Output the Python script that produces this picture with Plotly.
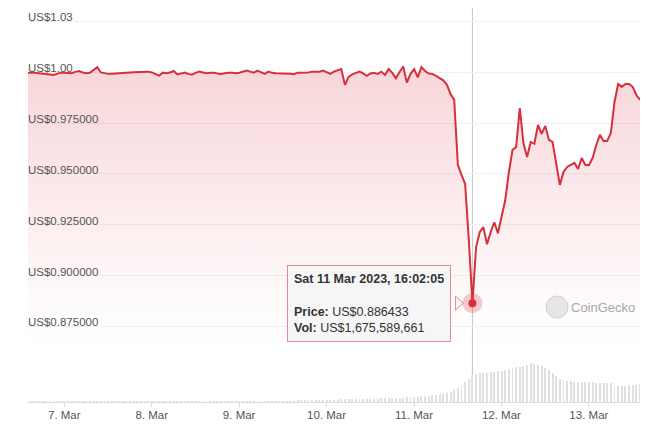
import pandas as pd
import plotly.graph_objects as go

# ---- data ----
start_time = "2023-03-06 14:02:05"
n_points = 169
times = pd.date_range(start_time, periods=n_points, freq="h")

price = [
    0.9998, 0.9999, 0.9997, 0.9995, 0.9994, 0.9992, 0.9989, 0.9987, 0.9994, 0.9998,
    0.9997, 0.9995, 0.9995, 1.0002, 1.0006, 0.9999, 0.9995, 0.9997, 1.0011, 1.0025,
    0.9999, 0.9994, 0.9992, 0.9992, 0.9994, 0.9995, 0.9997, 0.9998, 0.9999, 1.0000,
    1.0001, 1.0001, 1.0003, 1.0003, 0.9999, 0.9992, 0.9983, 0.9998, 0.9995, 0.9999,
    1.0006, 0.9989, 0.9994, 0.9999, 0.9992, 0.9988, 0.9997, 1.0003, 0.9999, 0.9995,
    0.9997, 0.9998, 0.9994, 0.9992, 0.9995, 0.9998, 0.9997, 0.9995, 0.9998, 1.0003,
    1.0008, 1.0003, 0.9998, 1.0008, 0.9999, 0.9992, 1.0003, 0.9997, 0.9995, 0.9995,
    0.9995, 0.9994, 0.9992, 0.9990, 0.9998, 0.9998, 0.9998, 0.9999, 1.0003, 1.0003,
    1.0003, 1.0008, 1.0001, 0.9992, 1.0003, 1.0011, 1.0016, 0.9938, 0.9977, 0.9990,
    0.9995, 1.0003, 0.9994, 0.9982, 0.9994, 0.9997, 0.9992, 1.0003, 0.9987, 1.0016,
    0.9997, 0.9970, 1.0001, 1.0028, 0.9949, 0.9992, 1.0015, 0.9975, 1.0025, 1.0006,
    0.9994, 0.9992, 0.9982, 0.9970, 0.9960, 0.9938, 0.9893, 0.9864, 0.9544, 0.9495,
    0.9450, 0.9177, 0.886433, 0.9140, 0.9213, 0.9238, 0.9154, 0.9213, 0.9262, 0.9208,
    0.9296, 0.9370, 0.9508, 0.9618, 0.9632, 0.9824, 0.9652, 0.9583, 0.9657, 0.9648,
    0.9741, 0.9697, 0.9736, 0.9667, 0.9657, 0.9554, 0.9446, 0.9510, 0.9534, 0.9544,
    0.9554, 0.9524, 0.9578, 0.9544, 0.9544, 0.9578, 0.9642, 0.9692, 0.9662, 0.9662,
    0.9702, 0.9854, 0.9942, 0.9928, 0.9942, 0.9942, 0.9928, 0.9888, 0.9864,
]

volume_bn = [
    0.03, 0.03, 0.03, 0.03, 0.03, 0.03, 0.03, 0.03, 0.03, 0.03,
    0.03, 0.03, 0.03, 0.03, 0.03, 0.03, 0.03, 0.03, 0.03, 0.03,
    0.03, 0.03, 0.03, 0.03, 0.03, 0.03, 0.03, 0.03, 0.03, 0.03,
    0.03, 0.03, 0.03, 0.03, 0.03, 0.03, 0.03, 0.03, 0.03, 0.03,
    0.03, 0.03, 0.03, 0.03, 0.03, 0.03, 0.03, 0.03, 0.03, 0.03,
    0.03, 0.03, 0.03, 0.03, 0.03, 0.03, 0.03, 0.03, 0.03, 0.03,
    0.03, 0.03, 0.03, 0.03, 0.03, 0.03, 0.03, 0.03, 0.03, 0.03,
    0.03, 0.03, 0.03, 0.03,
    0.08, 0.08, 0.08, 0.08, 0.08, 0.08, 0.08, 0.08, 0.08, 0.08, 0.08, 0.08,
    0.16, 0.17, 0.17, 0.18, 0.18, 0.19, 0.19, 0.20, 0.20, 0.21, 0.21, 0.22, 0.22, 0.23, 0.23,
    0.25, 0.26, 0.27, 0.28, 0.30, 0.31, 0.33, 0.35,
    0.37, 0.40, 0.42, 0.45, 0.48,
    0.52, 0.56, 0.62,
    0.75, 0.87, 1.02, 1.22, 1.42,
    1.675589661,
    1.76, 1.79, 1.80, 1.82, 1.84, 1.86,
    1.90, 1.95, 2.00, 2.05, 2.10, 2.15, 2.18,
    2.22, 2.28, 2.40, 2.35, 2.30,
    2.22, 2.12, 2.00,
    1.82, 1.62, 1.45,
    1.35, 1.30, 1.28, 1.27, 1.26, 1.25, 1.25, 1.24, 1.24,
    1.20, 1.20, 1.19, 1.19, 1.18,
    1.00, 1.00, 0.98, 0.98,
    1.05, 1.07, 1.08, 1.10,
]
volume = [v * 1e9 for v in volume_bn]

xtick_vals = ["2023-03-07", "2023-03-08", "2023-03-09", "2023-03-10",
              "2023-03-11", "2023-03-12", "2023-03-13"]
xtick_text = ["7. Mar", "8. Mar", "9. Mar", "10. Mar", "11. Mar", "12. Mar", "13. Mar"]

ytick_vals = [0.875, 0.900, 0.925, 0.950, 0.975, 1.000, 1.025]
ytick_text = ["US$0.875000", "US$0.900000", "US$0.925000", "US$0.950000",
              "US$0.975000", "US$1.00", "US$1.03"]

hover_index = 122
hover_title = "Sat 11 Mar 2023, 16:02:05"
hover_price_text = "US$0.886433"
hover_vol_text = "US$1,675,589,661"

# ---- style ----
RED = "#d7303b"
FONT = "Liberation Sans, Arial, Helvetica, sans-serif"
TXT = "#555555"

fig = go.Figure()

fig.add_trace(go.Bar(
    x=times, y=volume, yaxis="y2",
    marker=dict(color="#e0e0e0", line=dict(width=0)),
    width=0.95e6, hoverinfo="skip", showlegend=False,
))

fig.add_trace(go.Scatter(
    x=times, y=price, mode="lines",
    line=dict(color=RED, width=2),
    fill="tozeroy",
    fillgradient=dict(
        type="vertical",
        colorscale=[[0, "rgba(220,53,69,0)"], [0.15, "rgba(220,53,69,0.02)"],
                    [1, "rgba(220,53,69,0.2)"]],
        start=0.865, stop=1.0,
    ),
    hoverinfo="skip", showlegend=False,
))

hx = times[hover_index]
hy = price[hover_index]

fig.add_shape(type="line", xref="x", yref="paper", x0=hx, x1=hx, y0=0, y1=1.0,
              line=dict(color="#c8c8c8", width=1), layer="below")

fig.add_trace(go.Scatter(x=[hx], y=[hy], mode="markers",
                         marker=dict(size=20, color="rgba(220,53,69,0.25)"),
                         hoverinfo="skip", showlegend=False))
fig.add_trace(go.Scatter(x=[hx], y=[hy], mode="markers",
                         marker=dict(size=8, color=RED),
                         hoverinfo="skip", showlegend=False))

# tooltip notch
fig.add_shape(type="path", xref="x", yref="y", xsizemode="pixel", ysizemode="pixel",
              xanchor=hx, yanchor=hy,
              path="M -17,-7 L -9,0 L -17,7 Z",
              fillcolor="#f6f6f6", line=dict(color="rgba(215,48,59,0.55)", width=1),
              layer="above")

fig.add_annotation(
    x=hx, y=hy, xref="x", yref="y",
    text=(f"<b>{hover_title}</b><br><br><b>Price:</b> {hover_price_text}"
          f"<br><b>Vol:</b> {hover_vol_text}"),
    showarrow=False, xanchor="right", yanchor="middle", xshift=-21,
    align="left", bgcolor="#f6f6f6", bordercolor="rgba(215,48,59,0.55)",
    borderwidth=1, borderpad=6,
    font=dict(family=FONT, size=12.5, color="#333333"),
)

# CoinGecko watermark
fig.add_shape(type="circle", xref="paper", yref="paper", xsizemode="pixel", ysizemode="pixel",
              xanchor=0.8644, yanchor=0.241, x0=-11, x1=11, y0=-11, y1=11,
              fillcolor="#e6e6e6", line=dict(color="#d0d0d0", width=1), layer="above")
fig.add_annotation(x=0.884, y=0.241, xref="paper", yref="paper", text="CoinGecko",
                   showarrow=False, xanchor="left", yanchor="middle",
                   font=dict(family=FONT, size=13, color="#a8a8a8"))

# page body has an 8px margin: compensate so the plot lands where the reference has it
fig.update_layout(
    width=660, height=434,
    margin=dict(l=20, r=28, t=0, b=40),
    paper_bgcolor="white", plot_bgcolor="white",
    font=dict(family=FONT, size=11.5, color=TXT),
    bargap=0,
    xaxis=dict(
        range=[times[0], times[-1]],
        tickvals=xtick_vals, ticktext=xtick_text,
        showgrid=False, zeroline=False,
        showline=True, linecolor="#dcdcdc", linewidth=1,
        ticks="outside", ticklen=4, tickcolor="#dcdcdc",
        ticklabelstandoff=-2, ticklabeloverflow="allow",
        tickfont=dict(size=11.5, color=TXT),
    ),
    yaxis=dict(
        range=[0.8378, 1.0316],
        tickvals=ytick_vals, ticktext=ytick_text,
        ticklabelposition="inside top",
        ticklabelstandoff=-3, ticklabelshift=4, ticklabeloverflow="allow",
        showgrid=True, gridcolor="#f0f0f0", gridwidth=1,
        zeroline=False, showline=False, ticks="",
        tickfont=dict(size=11.5, color=TXT),
    ),
    yaxis2=dict(
        overlaying="y", range=[0, 24.45e9], visible=False, fixedrange=True,
    ),
)

fig.write_html("out.html")
